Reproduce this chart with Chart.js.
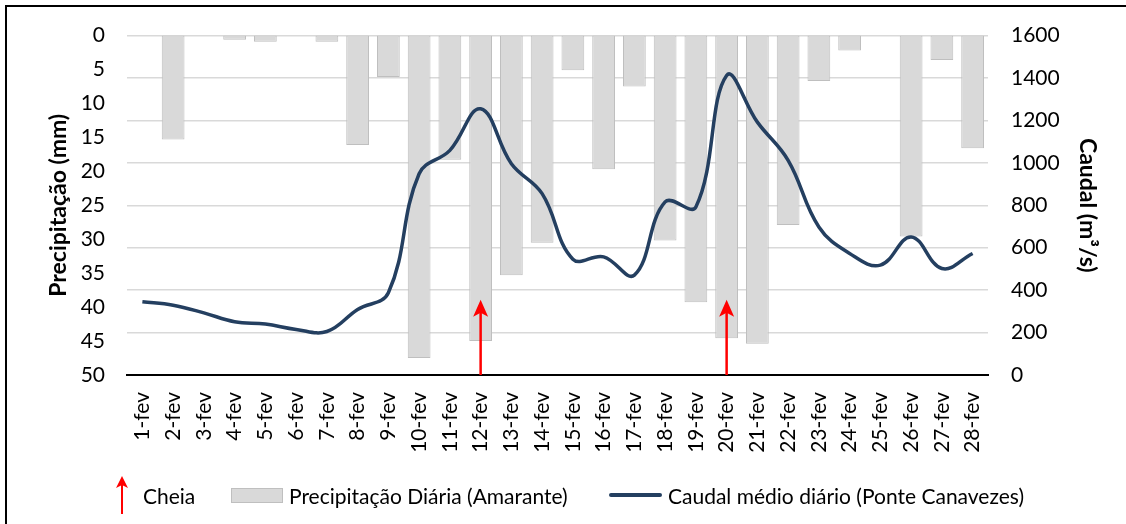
<!DOCTYPE html>
<html>
<head>
<meta charset="utf-8">
<script src="https://cdn.jsdelivr.net/npm/chart.js@4/dist/chart.umd.min.js"></script>
<style>
  body { margin: 0; background: #fff; }
  #wrap { position: relative; width: 1126px; height: 524px; overflow: hidden; font-family: Lato, sans-serif; }
  #frame { position: absolute; left: 5px; top: 5px; width: 1200px; height: 600px; border: 2px solid #000; box-sizing: border-box; }
  canvas { position: absolute; left: 0; top: 0; }
  .leg { position: absolute; top: 478px; height: 34px; display: flex; align-items: center; font-size: 21px; color: #000; white-space: nowrap; }
  .box { display: inline-block; width: 50px; height: 13px; background: #d9d9d9; border: 1px solid #bfbfbf; margin-right: 6px; }
  .ln { display: inline-block; width: 53px; height: 4px; background: #243f60; border-radius: 2px; margin-right: 6px; }
</style>
</head>
<body>
<div id="wrap">
  <div id="frame"></div>
  <canvas id="chart" width="1126" height="524"></canvas>
  <div class="leg" style="left:113px">
    <svg width="18" height="40" viewBox="0 0 18 40" style="margin-right:12px"><path d="M9 39 V8" stroke="#ff0000" stroke-width="2"/><path d="M9 1 L3 13 L9 10 L15 13 Z" fill="#ff0000"/></svg>Cheia
  </div>
  <div class="leg" style="left:231px"><span class="box"></span>Precipitação Diária (Amarante)</div>
  <div class="leg" style="left:609px"><span class="ln"></span>Caudal médio diário (Ponte Canavezes)</div>
</div>
<script>
// dias de fevereiro
var days = ['1-fev','2-fev','3-fev','4-fev','5-fev','6-fev','7-fev','8-fev','9-fev','10-fev',
            '11-fev','12-fev','13-fev','14-fev','15-fev','16-fev','17-fev','18-fev','19-fev','20-fev',
            '21-fev','22-fev','23-fev','24-fev','25-fev','26-fev','27-fev','28-fev'];
// precipitação diária (mm) - Amarante
var precipitacao = [0, 15.3, 0, 0.6, 0.9, 0, 0.9, 16.1, 6.1, 47.5,
                    18.3, 45.0, 35.3, 30.5, 5.1, 19.7, 7.5, 30.2, 39.3, 44.6,
                    45.4, 27.9, 6.7, 2.2, 0, 29.6, 3.6, 16.6];
// caudal médio diário (m3/s) - Ponte Canavezes
var caudal = [345, 329, 293, 251, 240, 215, 205, 309, 388, 949,
              1059, 1255, 996, 855, 546, 557, 471, 816, 792, 1412,
              1192, 1012, 698, 573, 518, 651, 502, 573];
// dias de cheia
var cheiaDias = ['12-fev', '20-fev'];
var cheiaAltura = 355;

var precipMax = 50, precipStep = 5;
var caudalMax = 1600, caudalStep = 200;

var cheiaArrows = {
  id: 'cheiaArrows',
  afterDatasetsDraw: function(chart) {
    var ctx = chart.ctx, x = chart.scales.x, y1 = chart.scales.y1;
    cheiaDias.forEach(function(d) {
      var px = x.getPixelForValue(days.indexOf(d));
      var base = y1.getPixelForValue(0);
      var tip = y1.getPixelForValue(cheiaAltura);
      ctx.save();
      ctx.strokeStyle = '#ff0000';
      ctx.fillStyle = '#ff0000';
      ctx.lineWidth = 2.5;
      ctx.beginPath();
      ctx.moveTo(px, base);
      ctx.lineTo(px, tip + 10);
      ctx.stroke();
      ctx.beginPath();
      ctx.moveTo(px, tip);
      ctx.lineTo(px - 7.5, tip + 17);
      ctx.lineTo(px, tip + 13);
      ctx.lineTo(px + 7.5, tip + 17);
      ctx.closePath();
      ctx.fill();
      ctx.restore();
    });
  }
};

var font = { family: 'Lato, sans-serif', size: 21 };
var titleFont = { family: 'Lato, sans-serif', size: 23, weight: 'bold' };

new Chart(document.getElementById('chart'), {
  type: 'bar',
  data: {
    labels: days,
    datasets: [{
      type: 'line',
      label: 'Caudal médio diário (Ponte Canavezes)',
      data: caudal,
      yAxisID: 'y1',
      borderColor: '#243f60',
      borderWidth: 3.5,
      pointRadius: 0,
      tension: 0.4,
      fill: false,
      order: 0
    }, {
      label: 'Precipitação Diária (Amarante)',
      data: precipitacao,
      yAxisID: 'y',
      backgroundColor: '#d9d9d9',
      borderColor: '#bfbfbf',
      borderWidth: 1,
      borderSkipped: false,
      categoryPercentage: 1,
      barPercentage: 0.74,
      order: 1
    }]
  },
  options: {
    responsive: false,
    animation: false,
    layout: { padding: { left: 0, right: 0, top: 35, bottom: 0 } },
    plugins: { legend: { display: false }, tooltip: { enabled: false } },
    scales: {
      x: {
        grid: { display: false, drawTicks: false },
        border: { display: true, color: '#000', width: 2 },
        ticks: { color: '#000', font: font, minRotation: 90, maxRotation: 90, padding: 17, autoSkip: false },
        afterFit: function(s) { s.height = 149; }
      },
      y: {
        position: 'left',
        reverse: true,
        min: 0, max: precipMax,
        grid: { display: false, drawTicks: false },
        border: { display: false },
        ticks: { color: '#000', font: font, stepSize: precipStep, padding: 22 },
        title: { display: true, text: 'Precipitação (mm)', color: '#000', font: titleFont, padding: { top: 45, bottom: 0 } },
        afterFit: function(s) { s.width = 127; }
      },
      y1: {
        position: 'right',
        min: 0, max: caudalMax,
        grid: { color: '#d9d9d9', lineWidth: 1.5, drawTicks: false },
        border: { display: false },
        ticks: { color: '#000', font: font, stepSize: caudalStep, padding: 23,
                 callback: function(v) { return String(v); } },
        title: { display: true, text: 'Caudal (m³/s)', color: '#000', font: titleFont, padding: { top: 25, bottom: 0 } },
        afterFit: function(s) { s.width = 138; }
      }
    }
  },
  plugins: [cheiaArrows]
});
</script>
</body>
</html>
